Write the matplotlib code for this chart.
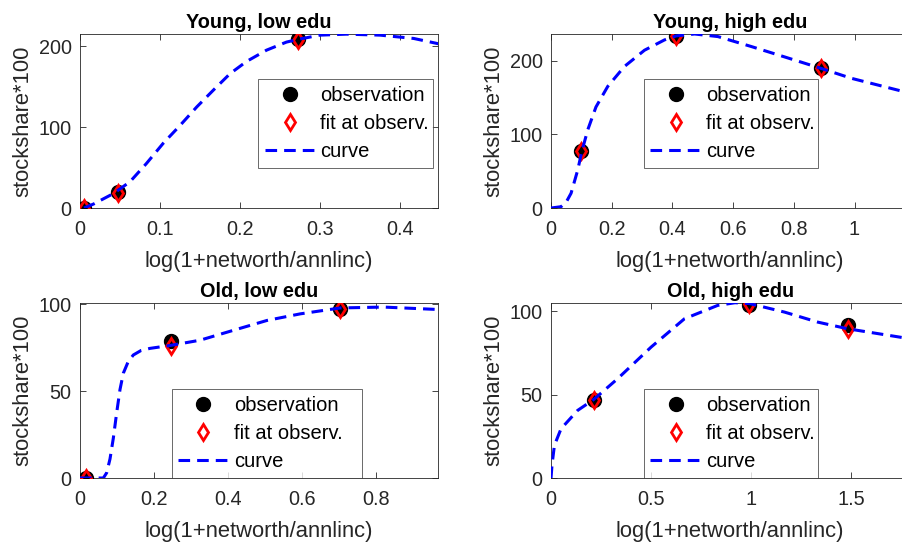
import numpy as np
import matplotlib
matplotlib.use('Agg')
import matplotlib.pyplot as plt

plt.rcParams['font.family'] = ['Liberation Sans', 'DejaVu Sans']

TXT = '#262626'

titles = ['Young, low edu', 'Young, high edu', 'Old, low edu', 'Old, high edu']

# observations and model fit at the observed points
yl_obs_x = [0.005, 0.047, 0.273]
yl_obs_y = [0.0, 19.5, 208.5]
yl_fit_y = [0.0, 19.0, 208.0]
yl_curve_x = [0.005, 0.017, 0.042, 0.0625, 0.083, 0.104, 0.125, 0.146, 0.167,
              0.1875, 0.208, 0.233, 0.258, 0.273, 0.30, 0.333, 0.375, 0.417, 0.45]
yl_curve_y = [0.0, 5.0, 18.0, 32.5, 55.0, 80.0, 102.0, 125.0, 146.0,
              166.0, 181.0, 195.0, 205.0, 208.5, 213.6, 214.8, 213.6, 209.5, 202.5]

yh_obs_x = [0.099, 0.413, 0.888]
yh_obs_y = [77.5, 233.5, 189.6]
yh_fit_y = [77.0, 233.5, 189.6]
yh_curve_x = [0.0, 0.033, 0.05, 0.066, 0.088, 0.101, 0.121, 0.148, 0.187, 0.242,
              0.308, 0.374, 0.412, 0.473, 0.55, 0.66, 0.769, 0.888, 0.989, 1.18]
yh_curve_y = [0.0, 1.8, 8.0, 20.0, 51.6, 76.0, 106.0, 137.0, 165.0, 192.0,
              214.0, 228.0, 233.4, 236.0, 232.5, 219.0, 205.0, 189.6, 176.0, 156.0]

ol_obs_x = [0.015, 0.247, 0.703]
ol_obs_y = [0.0, 78.8, 97.3]
ol_fit_y = [0.0, 75.8, 97.6]
ol_curve_x = [0.0, 0.063, 0.072, 0.081, 0.09, 0.099, 0.108, 0.117, 0.13, 0.144,
              0.165, 0.189, 0.247, 0.324, 0.414, 0.505, 0.595, 0.703, 0.82, 0.967]
ol_curve_y = [0.0, 0.0, 3.0, 11.0, 23.0, 37.6, 51.0, 60.4, 67.0, 70.9,
              73.5, 74.7, 76.5, 79.4, 85.1, 90.8, 94.6, 98.0, 98.5, 97.1]

oh_obs_x = [0.213, 0.992, 1.483]
oh_obs_y = [46.9, 103.8, 91.4]
oh_fit_y = [46.9, 104.0, 89.4]
oh_curve_x = [0.0, 0.005, 0.017, 0.05, 0.133, 0.213, 0.333, 0.5, 0.667, 0.833,
              0.92, 0.992, 1.167, 1.333, 1.483, 1.79]
oh_curve_y = [0.0, 8.0, 19.6, 29.5, 40.5, 47.0, 59.5, 78.4, 95.4, 103.4,
              105.0, 104.5, 99.4, 93.4, 89.4, 83.5]

panels = [
    (yl_obs_x, yl_obs_y, yl_fit_y, yl_curve_x, yl_curve_y),
    (yh_obs_x, yh_obs_y, yh_fit_y, yh_curve_x, yh_curve_y),
    (ol_obs_x, ol_obs_y, ol_fit_y, ol_curve_x, ol_curve_y),
    (oh_obs_x, oh_obs_y, oh_fit_y, oh_curve_x, oh_curve_y),
]

xlims = [(0, 0.4475), (0, 1.18), (0, 0.967), (0, 1.79)]
ylims = [(0, 215), (0, 236), (0, 101), (0, 105)]
xticks = [[0, 0.1, 0.2, 0.3, 0.4], [0, 0.2, 0.4, 0.6, 0.8, 1],
          [0, 0.2, 0.4, 0.6, 0.8], [0, 0.5, 1, 1.5]]
xticklabels = [['0', '0.1', '0.2', '0.3', '0.4'], ['0', '0.2', '0.4', '0.6', '0.8', '1'],
               ['0', '0.2', '0.4', '0.6', '0.8'], ['0', '0.5', '1', '1.5']]
yticks = [[0, 100, 200], [0, 100, 200], [0, 50, 100], [0, 50, 100]]

# axes rectangles in figure fractions (the right column runs past the edge)
rects = [
    (0.0887, 0.6176, 0.397, 0.3199),
    (0.6109, 0.6176, 0.397, 0.3199),
    (0.0887, 0.1213, 0.397, 0.3222),
    (0.6109, 0.1213, 0.397, 0.3222),
]
# legend boxes in axes fractions: (left, bottom, width, height)
legend_box = [
    (0.498, 0.253, 0.487, 0.488),
    (0.259, 0.253, 0.486, 0.488),
    (0.256, 0.019, 0.531, 0.487),
    (0.259, 0.019, 0.486, 0.487),
]

fig = plt.figure(figsize=(9.02, 5.44), dpi=100)

for i in range(4):
    ox, oy, fy, cx, cy = panels[i]
    ax = fig.add_axes(rects[i])
    ax.plot(ox, oy, 'o', color='k', markersize=10, markeredgewidth=1,
            label='observation', zorder=3)
    ax.plot(ox, fy, 'd', color='red', markerfacecolor='none', markersize=8.5,
            markeredgewidth=2.0, label='fit at observ.', zorder=4)
    ax.plot(cx, cy, color='blue', linewidth=2.2, linestyle=(0, (3.8, 2.3)),
            label='curve', zorder=5)

    ax.set_xlim(*xlims[i])
    ax.set_ylim(*ylims[i])
    ax.set_xticks(xticks[i], xticklabels[i])
    ax.set_yticks(yticks[i])
    ax.tick_params(direction='in', length=4, width=0.6, color=TXT,
                   labelcolor=TXT, labelsize=14.3, top=True, right=True)
    ax.tick_params(axis='x', pad=8.5)
    ax.tick_params(axis='y', pad=6)
    for sp in ax.spines.values():
        sp.set_color(TXT)
        sp.set_linewidth(0.6)
    ax.set_title(titles[i], fontsize=14.3, fontweight='bold', color='black', pad=4)
    ax.set_xlabel('log(1+networth/annlinc)', fontsize=15.8, color=TXT, labelpad=9)
    ax.set_ylabel('stockshare*100', fontsize=15.8, color=TXT, labelpad=4)

    x0, y0, w, h = legend_box[i]
    leg = ax.legend(loc='upper left', bbox_to_anchor=(x0, y0, w, h), mode='expand',
                    borderaxespad=0, fontsize=14.5, frameon=True, fancybox=False,
                    handlelength=2.5, handletextpad=0.25, labelspacing=0.46,
                    borderpad=0.33)
    leg.get_frame().set_edgecolor(TXT)
    leg.get_frame().set_linewidth(0.6)
    for t in leg.get_texts():
        t.set_color('black')

fig.savefig('out.png', dpi=100)
